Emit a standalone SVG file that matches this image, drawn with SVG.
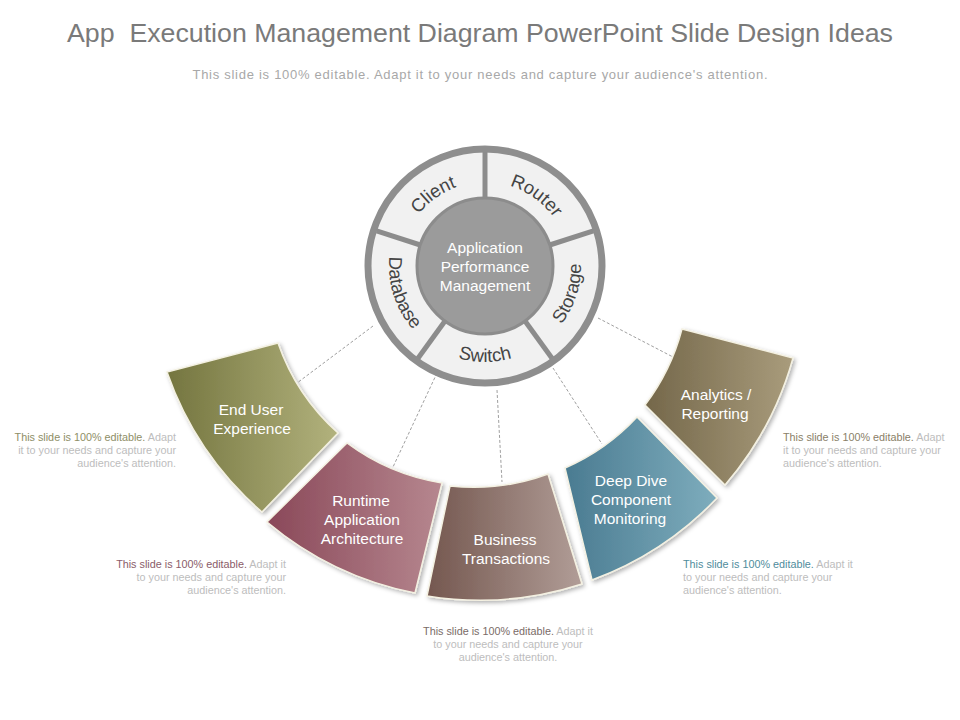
<svg xmlns="http://www.w3.org/2000/svg" width="960" height="720" viewBox="0 0 960 720">
<style>
text{font-family:"Liberation Sans",Arial,sans-serif}
.title{font-size:26.5px;fill:#7a7a7a}
.sub{font-size:13px;fill:#a8a8a8}
.ring{font-size:18.5px;fill:#444}
.center{font-size:15.5px;fill:#fff}
.seg{font-size:15.5px;fill:#fff}
.seg path{stroke:#f4f1e2;stroke-width:1.5;filter:url(#sh)}
.desc{font-size:10.8px;fill:#bdbdbd}
.dash{stroke:#a0a0a0;stroke-width:1;stroke-dasharray:3 2;fill:none}
.div{stroke:#8c8c8c;stroke-width:5}
</style>
<defs>
<filter id="sh" x="-20%" y="-20%" width="140%" height="140%">
<feDropShadow dx="2" dy="2" stdDeviation="2" flood-color="#000" flood-opacity="0.3"/>
</filter>
<linearGradient id="gEnd" x1="0" x2="1"><stop offset="0" stop-color="#74753f"/><stop offset="1" stop-color="#b2b27d"/></linearGradient>
<linearGradient id="gRun" x1="0" x2="1"><stop offset="0" stop-color="#8a4859"/><stop offset="1" stop-color="#b6878f"/></linearGradient>
<linearGradient id="gBus" x1="0" x2="1"><stop offset="0" stop-color="#74574f"/><stop offset="1" stop-color="#b19d97"/></linearGradient>
<linearGradient id="gDeep" x1="0" x2="1"><stop offset="0" stop-color="#4a7b91"/><stop offset="1" stop-color="#7eadbd"/></linearGradient>
<linearGradient id="gAna" x1="0" x2="1"><stop offset="0" stop-color="#74674a"/><stop offset="1" stop-color="#a99c7c"/></linearGradient>
<path id="pClient" d="M403.5,245.7 A84,84 0 0 1 490.9,182.2"/>
<path id="pRouter" d="M479.1,182.2 A84,84 0 0 1 566.5,245.7"/>
<path id="pStorage" d="M535.9,347.4 A96,96 0 0 0 574.0,230.0"/>
<path id="pSwitch" d="M423.3,339.5 A96,96 0 0 0 546.7,339.5"/>
<path id="pDatabase" d="M396.0,230.0 A96,96 0 0 0 434.1,347.4"/>
</defs>
<rect width="960" height="720" fill="#fff"/>
<text class="title" x="480" y="42" text-anchor="middle" textLength="826" lengthAdjust="spacingAndGlyphs" style="white-space:pre">App  Execution Management Diagram PowerPoint Slide Design Ideas</text>
<text class="sub" x="480" y="79" text-anchor="middle" textLength="575" lengthAdjust="spacing">This slide is 100% editable. Adapt it to your needs and capture your audience's attention.</text>

<g id="connectors">
<line class="dash" x1="373" y1="326" x2="297" y2="383"/>
<line class="dash" x1="437" y1="373" x2="393" y2="467"/>
<line class="dash" x1="497" y1="390" x2="502" y2="482"/>
<line class="dash" x1="553" y1="368" x2="602" y2="444"/>
<line class="dash" x1="598" y1="318" x2="673" y2="357"/>
</g>

<g id="wheel">
<circle cx="485" cy="266" r="117" fill="#f1f1f1" stroke="#8e8e8e" stroke-width="7"/>
<line class="div" x1="485" y1="198" x2="485" y2="152"/>
<line class="div" x1="549.7" y1="245" x2="593.4" y2="230.8"/>
<line class="div" x1="525" y1="321" x2="552" y2="358.2"/>
<line class="div" x1="445" y1="321" x2="418" y2="358.2"/>
<line class="div" x1="420.3" y1="245" x2="376.6" y2="230.8"/>
<circle cx="485" cy="266" r="68" fill="#9b9b9b" stroke="#8c8c8c" stroke-width="3"/>
<text class="ring"><textPath href="#pClient" startOffset="50%" text-anchor="middle">Client</textPath></text>
<text class="ring"><textPath href="#pRouter" startOffset="50%" text-anchor="middle">Router</textPath></text>
<text class="ring"><textPath href="#pStorage" startOffset="50%" text-anchor="middle">Storage</textPath></text>
<text class="ring"><textPath href="#pSwitch" startOffset="50%" text-anchor="middle">Switch</textPath></text>
<text class="ring"><textPath href="#pDatabase" startOffset="50%" text-anchor="middle">Database</textPath></text>
<text class="center" text-anchor="middle"><tspan x="485" y="253">Application</tspan><tspan x="485" y="272">Performance</tspan><tspan x="485" y="291">Management</tspan></text>
</g>

<g id="end-user" class="seg">
<path d="M262,512 A330,330 0 0 1 167,372 L278,343 A215,215 0 0 0 338,433 Z" fill="url(#gEnd)"/>
<text text-anchor="middle"><tspan x="251" y="415">End User</tspan><tspan x="252" y="434">Experience</tspan></text>
</g>
<g id="runtime" class="seg">
<path d="M415,593 A330,330 0 0 1 267,522 L347,443 A215,215 0 0 0 442,483 Z" fill="url(#gRun)"/>
<text text-anchor="middle"><tspan x="361" y="506">Runtime</tspan><tspan x="362" y="525">Application</tspan><tspan x="362" y="544">Architecture</tspan></text>
</g>
<g id="business" class="seg">
<path d="M582,584 A330,330 0 0 1 427,596 L450,486 A215,215 0 0 0 548,474 Z" fill="url(#gBus)"/>
<text text-anchor="middle"><tspan x="505" y="545">Business</tspan><tspan x="506" y="564">Transactions</tspan></text>
</g>
<g id="deep-dive" class="seg">
<path d="M717,498 A330,330 0 0 1 592,580 L565,468 A215,215 0 0 0 637,417 Z" fill="url(#gDeep)"/>
<text text-anchor="middle"><tspan x="631" y="486">Deep Dive</tspan><tspan x="631" y="505">Component</tspan><tspan x="630" y="524">Monitoring</tspan></text>
</g>
<g id="analytics" class="seg">
<path d="M793,358 A330,330 0 0 1 725,485 L645,405 A215,215 0 0 0 682,329 Z" fill="url(#gAna)"/>
<text text-anchor="middle"><tspan x="716" y="400">Analytics /</tspan><tspan x="715" y="419">Reporting</tspan></text>
</g>

<g id="desc-end-user">
<text class="desc" text-anchor="end"><tspan x="176" y="441"><tspan fill="#8e8e66">This slide is 100% editable.</tspan> Adapt</tspan><tspan x="176" y="454">it to your needs and capture your</tspan><tspan x="176" y="467">audience's attention.</tspan></text>
</g>
<g id="desc-runtime">
<text class="desc" text-anchor="end"><tspan x="286" y="568"><tspan fill="#8a5c69">This slide is 100% editable.</tspan> Adapt it</tspan><tspan x="286" y="581">to your needs and capture your</tspan><tspan x="286" y="594">audience's attention.</tspan></text>
</g>
<g id="desc-business">
<text class="desc" text-anchor="middle"><tspan x="508" y="635"><tspan fill="#7a6b67">This slide is 100% editable.</tspan> Adapt it</tspan><tspan x="508" y="648">to your needs and capture your</tspan><tspan x="508" y="661">audience's attention.</tspan></text>
</g>
<g id="desc-deep-dive">
<text class="desc"><tspan x="683" y="568"><tspan fill="#4f8c9c">This slide is 100% editable.</tspan> Adapt it</tspan><tspan x="683" y="581">to your needs and capture your</tspan><tspan x="683" y="594">audience's attention.</tspan></text>
</g>
<g id="desc-analytics">
<text class="desc"><tspan x="783" y="441"><tspan fill="#8a8068">This slide is 100% editable.</tspan> Adapt</tspan><tspan x="783" y="454">it to your needs and capture your</tspan><tspan x="783" y="467">audience's attention.</tspan></text>
</g>
</svg>
